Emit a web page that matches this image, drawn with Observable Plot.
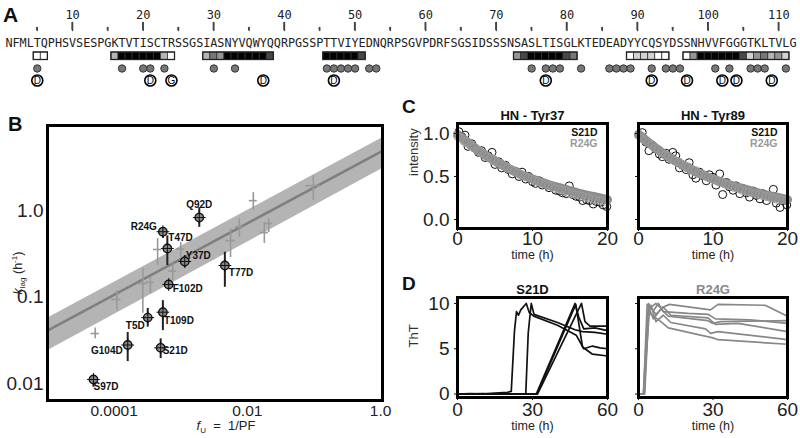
<!DOCTYPE html>
<html><head><meta charset="utf-8">
<script src="https://cdn.jsdelivr.net/npm/d3@7"></script>
<script src="https://cdn.jsdelivr.net/npm/@observablehq/plot@0.6"></script>
<style>
body{margin:0;background:#fff;}
#root{position:relative;width:800px;height:438px;overflow:hidden;background:#fff;font-family:"Liberation Sans",Arial,sans-serif;}
</style></head><body><div id="root"></div>
<script>
// ---------------- Panel A data ----------------
const sequence = "NFMLTQPHSVSESPGKTVTISCTRSSGSIASNYVQWYQQRPGSSPTTVIYEDNQRPSGVPDRFSGSIDSSSNSASLTISGLKTEDEADYYCQSYDSSNHVVFGGGTKLTVLG";
const majorTicks = [10,20,30,40,50,60,70,80,90,100,110];
const minorTicks = [5,15,25,35,45,55,65,75,85,95,105];
const segStart = [5,16,29,46,73,89,97];
const segLevels = [
  [0,0],
  [2,6,6,6,6,6,6,2,0],
  [2,4,3,6,6,6,6,6,6,5],
  [6,6,6,6,6,5],
  [3,5,6,6,6,6,6,5,4],
  [0,1,1,1,0,0],
  [0,3,6,6,6,6,6,6,5,1,3,4,2,3,1]
];
const dotResidues = [5,17,20,21,23,30,33,46,47,48,49,50,52,53,75,77,78,79,82,86,87,88,89,92,94,95,96,101,103,106,107,108,111];
const mutResidues = [5,21,24,37,47,77,92,97,102,104,109];
const mutLetters  = ["D","D","G","D","D","D","D","D","D","D","D"];

// ---------------- Panel B data ----------------
const grayF   = [5.2e-5,1.1e-4,2.7e-4,3.5e-4,4.5e-4,7.6e-4,1.0e-3,5.6e-3,7.6e-3,0.0123,0.018,0.021,0.098];
const grayK   = [0.038,0.094,0.144,0.148,0.355,0.20,0.36,0.45,0.65,1.30,0.557,0.71,1.94];
const grayKlo = [0.033,0.070,0.065,0.110,0.232,0.156,0.287,0.287,0.49,1.0,0.416,0.557,1.30];
const grayKhi = [0.044,0.119,0.214,0.169,0.476,0.245,0.428,0.62,0.81,1.61,0.73,0.81,2.53];
const grayFlo = [4.5e-5,9.3e-5,2.3e-4,3.0e-4,3.9e-4,6.6e-4,8.7e-4,4.7e-3,6.6e-3,0.0107,0.0157,0.0183,0.075];
const grayFhi = [6.0e-5,1.27e-4,3.1e-4,4.0e-4,5.2e-4,8.7e-4,1.15e-3,6.6e-3,8.7e-3,0.0141,0.0207,0.024,0.126];
const mutNames = ["Q92D","R24G","T47D","Y37D","T77D","F102D","T109D","T5D","G104D","S21D","S97D"];
const mutF   = [1.9e-3,5.4e-4,6.3e-4,1.15e-3,4.6e-3,6.6e-4,5.4e-4,3.2e-4,1.6e-4,5.0e-4,4.9e-5];
const mutK   = [0.83,0.57,0.365,0.258,0.232,0.14,0.067,0.058,0.028,0.026,0.0112];
const mutKlo = [0.64,0.48,0.232,0.219,0.13,0.13,0.041,0.045,0.018,0.0195,0.0091];
const mutKhi = [1.08,0.63,0.51,0.30,0.33,0.15,0.091,0.074,0.039,0.033,0.0124];
const fitF = [1e-5,1.07];
const fitK = [0.041,4.9];
const bandLo = [0.024,3.05];
const bandHi = [0.057,6.95];
const bXTicks = [0.0001,0.01,1];
const bXTickLabels = ["0.0001","0.01","1.0"];
const bYTicks = [0.01,0.1,1];
const bYTickLabels = ["0.01","0.1","1.0"];

// ---------------- Panel C data ----------------
const c37BlackT = [0.2,0.6,1.0,1.4,1.9,2.3,2.8,3.2,3.7,4.1,4.6,5.0,5.5,5.9,6.4,6.8,7.3,7.7,8.2,8.6,9.1,9.5,10.0,10.4,10.9,11.3,11.8,12.2,12.7,13.1,13.6,14.0,14.5,14.9,15.4,15.8,16.3,16.7,17.2,17.6,18.1,18.5,19.0,19.4,19.9];
const c37BlackV = [1.02,0.96,0.98,0.85,0.88,0.83,0.78,0.80,0.72,0.74,0.78,0.64,0.67,0.60,0.63,0.58,0.53,0.56,0.50,0.55,0.47,0.50,0.44,0.42,0.45,0.40,0.41,0.37,0.38,0.34,0.33,0.31,0.30,0.39,0.29,0.27,0.26,0.22,0.23,0.22,0.18,0.21,0.20,0.17,0.15];
const c37GrayT = [0.0,0.4,0.9,1.3,1.8,2.2,2.7,3.1,3.6,4.0,4.5,4.9,5.4,5.8,6.3,6.7,7.2,7.6,8.1,8.5,9.0,9.4,9.9,10.3,10.8,11.2,11.7,12.1,12.6,13.0,13.5,13.9,14.4,14.8,15.3,15.7,16.2,16.6,17.1,17.5,18.0,18.4,18.9,19.3,19.8];
const c37GrayV = [0.97,0.95,0.91,0.90,0.86,0.84,0.80,0.78,0.76,0.73,0.71,0.69,0.66,0.65,0.62,0.60,0.58,0.56,0.54,0.52,0.50,0.49,0.47,0.45,0.44,0.42,0.41,0.39,0.38,0.36,0.35,0.34,0.33,0.31,0.30,0.29,0.28,0.27,0.26,0.25,0.24,0.23,0.22,0.22,0.21];
const c89BlackT = [0.1,0.5,1.0,1.4,1.9,2.3,2.8,3.2,3.7,4.1,4.6,5.0,5.5,5.9,6.4,6.8,7.3,7.7,8.2,8.6,9.1,9.5,10.0,10.4,10.9,11.3,11.8,12.2,12.7,13.1,13.6,14.0,14.5,14.9,15.4,15.8,16.3,16.7,17.2,17.6,18.1,18.5,19.0,19.4,19.9];
const c89BlackV = [0.98,1.01,0.90,0.80,0.86,0.82,0.76,0.73,0.77,0.70,0.78,0.74,0.60,0.63,0.58,0.66,0.52,0.48,0.55,0.51,0.45,0.52,0.49,0.40,0.53,0.29,0.43,0.38,0.34,0.39,0.30,0.36,0.31,0.26,0.33,0.28,0.24,0.30,0.22,0.27,0.35,0.19,0.14,0.22,0.17];
const c89GrayT = [0.0,0.4,0.9,1.3,1.8,2.2,2.7,3.1,3.6,4.0,4.5,4.9,5.4,5.8,6.3,6.7,7.2,7.6,8.1,8.5,9.0,9.4,9.9,10.3,10.8,11.2,11.7,12.1,12.6,13.0,13.5,13.9,14.4,14.8,15.3,15.7,16.2,16.6,17.1,17.5,18.0,18.4,18.9,19.3,19.8];
const c89GrayV = [0.98,0.94,0.92,0.89,0.87,0.83,0.81,0.78,0.75,0.74,0.71,0.68,0.67,0.64,0.62,0.61,0.58,0.57,0.54,0.53,0.51,0.49,0.47,0.46,0.44,0.43,0.41,0.40,0.38,0.37,0.36,0.34,0.33,0.32,0.31,0.30,0.29,0.28,0.27,0.26,0.25,0.24,0.23,0.23,0.22];
const cFitT = [0,2,4,6,8,10,12,14,16,18,20];
const cFitV = [0.99,0.85,0.73,0.63,0.54,0.47,0.41,0.36,0.31,0.27,0.23];

// ---------------- Panel D data ----------------
const thtS21D = [
  [[0,0],[5,0.05],[10,0],[15,0.1],[20,0.2],[21.5,0.3],[22.8,7.0],[23.6,9.1],[24.4,8.7],[25.3,9.3],[27.5,10],[28.7,9.0],[30.5,8.6],[40,7.6],[47.5,6.5],[50.5,5.0],[54,5.3],[57,5.1],[60,5.0]],
  [[0,0],[10,0.05],[20,0],[27.3,0],[28.3,6.8],[29.5,10],[30.6,8.8],[40,7.9],[47,7.1],[50,6.9],[55,6.8],[60,6.6]],
  [[0,0],[10,0],[20,0],[31.5,0],[47,10],[48.5,8.5],[50.5,7.2],[55,7.3],[60,7.0]],
  [[0,0],[10,0],[20,0],[32,0],[49.6,10],[51,8.0],[53,7.5],[60,7.5]],
  [[0,0],[10,0],[20,0],[31.8,0],[47.3,9.9],[50,5.2],[54,4.4],[60,4.2]]
];
const thtR24G = [
  [[0,0],[2,0],[3.5,9.9],[5,9.6],[7,10],[9,9.5],[12.5,9.9],[29,9.3],[32,9.9],[51,9.8],[60,8.6]],
  [[0,0],[2.3,0],[4,10],[6,9.2],[8,10],[10,9.1],[20,8.9],[28,8.8],[31,8.3],[45,8.2],[60,7.8]],
  [[0,0],[2.5,0],[4.2,9.5],[6,8.3],[9,9.4],[12,8.6],[28,8.1],[30,7.8],[33,8.0],[60,8.1]],
  [[0,0],[2,0],[4.5,9.7],[7,8.8],[10,9.6],[13,8.7],[28,8.4],[31,7.7],[40,7.8],[60,6.9]],
  [[0,0],[2,0],[3.6,8.5],[5,9.8],[7,8.0],[10,8.7],[13,7.9],[27,7.2],[29,6.7],[32,6.9],[60,6.0]],
  [[0,0],[2.2,0],[4,9.0],[6,8.6],[9,8.0],[12,7.3],[25,6.5],[30,6.2],[32,6.0],[60,5.5]]
];

// ---------------- helpers ----------------
const root = document.getElementById("root");
const FONT = '"Liberation Sans", Arial, sans-serif';
function place(el, left, top) {
  el.style.position = "absolute";
  el.style.left = left + "px";
  el.style.top = top + "px";
  el.style.background = "none";
  root.appendChild(el);
}
const baseStyle = {fontFamily: FONT, background: "none", overflow: "visible", color: "#111"};
const zip = (a, b) => a.map((v, i) => ({t: v, v: b[i]}));
const flatTraces = tr => tr.flatMap((pts, id) => pts.map(([t, v]) => ({id, t, v})));

// ---------------- Panel A ----------------
const seqData = Array.from(sequence, (c, i) => ({pos: i + 1, aa: c}));
const cells = segStart.flatMap((s, k) => segLevels[k].map((lv, j) => ({pos: s + j, level: lv})));
const segs = segStart.map((s, k) => ({a: s, b: s + segLevels[k].length - 1}));
const muts = mutResidues.map((r, i) => ({pos: r, l: mutLetters[i]}));
const seqX = {domain: [0.5, 112.5], axis: null};
const tickSegs = (ticks, y1, y2) => ticks.flatMap(t => [{t, y: y1}, {t, y: y2}]);
const plotA = Plot.plot({
  width: 800, height: 95, marginLeft: 5, marginRight: 4, marginTop: 0, marginBottom: 0,
  x: seqX,
  y: {domain: [0, 95], range: [0, 95], axis: null},
  color: {type: "ordinal", domain: [0,1,2,3,4,5,6], range: ["#ffffff","#d2d2d2","#b4b4b4","#959595","#777777","#474747","#000000"]},
  style: {...baseStyle, fontFamily: '"DejaVu Sans Mono", monospace'},
  marks: [
    Plot.line(tickSegs(majorTicks, 22, 30), {x: "t", y: "y", z: "t", stroke: "#444", strokeWidth: 1.4}),
    Plot.line(tickSegs(minorTicks, 27, 30), {x: "t", y: "y", z: "t", stroke: "#444", strokeWidth: 1.4}),
    Plot.text(majorTicks, {x: d => d, y: 15, text: d => String(d), fontSize: 12, fill: "#222"}),
    Plot.text(seqData, {x: "pos", y: 43, text: "aa", fontSize: 11.8, fill: "#222"}),
    Plot.rect(cells, {x1: d => d.pos - 0.5, x2: d => d.pos + 0.5, y1: 52, y2: 59.5, fill: "level", stroke: "#333", strokeWidth: 0.8}),
    Plot.rect(segs, {x1: d => d.a - 0.5, x2: d => d.b + 0.5, y1: 52, y2: 59.5, fill: "none", stroke: "#222", strokeWidth: 1.3}),
    Plot.dot(dotResidues, {x: d => d, y: 68, r: 3.7, fill: "#777", stroke: "#333", strokeWidth: 1}),
    Plot.dot(muts, {x: "pos", y: 80, r: 5.5, fill: "#fff", stroke: "#000", strokeWidth: 1.6}),
    Plot.text(muts, {x: "pos", y: 80, text: "l", fontSize: 10, fontFamily: FONT, fill: "#000"})
  ]
});
place(plotA, 0, 0);

// ---------------- Panel B ----------------
const grayData = grayF.map((f, i) => ({f, k: grayK[i], klo: grayKlo[i], khi: grayKhi[i], flo: grayFlo[i], fhi: grayFhi[i]}));
const mutData = mutNames.map((n, i) => ({name: n, f: mutF[i], k: mutK[i], klo: mutKlo[i], khi: mutKhi[i]}));
const fitData = fitF.map((f, i) => ({f, k: fitK[i], lo: bandLo[i], hi: bandHi[i]}));
const labelLayout = {
  Q92D: [0, -13, "middle"], R24G: [-6, -5, "end"], T47D: [1, -10.5, "start"], Y37D: [1, -6, "start"],
  T77D: [4, 7, "start"], F102D: [4, 4, "start"], T109D: [1, 9, "start"], T5D: [-3, 8.5, "end"],
  G104D: [-5, 5.5, "end"], S21D: [2, 3, "start"], S97D: [0, 7, "start"]
};
const bLabelMarks = mutData.map(d => {
  const [dx, dy, anchor] = labelLayout[d.name];
  return Plot.text([d], {x: "f", y: "k", text: "name", dx, dy, textAnchor: anchor, fontWeight: "bold", fontSize: 10, fill: "#111"});
});
const plotB = Plot.plot({
  width: 400, height: 338, marginLeft: 47, marginRight: 18, marginTop: 25, marginBottom: 38,
  x: {type: "log", domain: [1e-5, 1.07]},
  y: {type: "log", domain: [0.0064, 9.6]},
  style: baseStyle,
  marks: [
    Plot.areaY(fitData, {x: "f", y1: "lo", y2: "hi", fill: "#b4b4b4"}),
    Plot.line(fitData, {x: "f", y: "k", stroke: "#7f7f7f", strokeWidth: 2.5}),
    Plot.ruleX(grayData, {x: "f", y1: "klo", y2: "khi", stroke: "#999", strokeWidth: 1.6}),
    Plot.ruleY(grayData, {y: "k", x1: "flo", x2: "fhi", stroke: "#999", strokeWidth: 1.6}),
    Plot.ruleX(mutData, {x: "f", y1: "klo", y2: "khi", stroke: "#222", strokeWidth: 2}),
    Plot.dot(mutData, {x: "f", y: "k", r: 4.2, fill: "#8a8a8a", stroke: "#111", strokeWidth: 1.4}),
    Plot.dot(mutData, {x: "f", y: "k", r: 4.2, symbol: "plus", stroke: "#111", strokeWidth: 1}),
    ...bLabelMarks,
    Plot.frame({stroke: "#000", strokeWidth: 3}),
    Plot.axisX({ticks: bXTicks, tickFormat: d => bXTickLabels[bXTicks.indexOf(d)], tickSize: 0, tickPadding: 4, fontSize: 15.5, label: null, fill: "#222"}),
    Plot.axisY({ticks: bYTicks, tickFormat: d => bYTickLabels[bYTicks.indexOf(d)], tickSize: 0, tickPadding: 4, fontSize: 19, label: null, fill: "#222"})
  ]
});
place(plotB, 0, 100);

// ---------------- Panels C & D ----------------
function small({left, top, width, height, ml, mb, mt, xDomain, yDomain, xTicks, yTicks, yFmt, showY, title, titleColor, yLabel, xPad, xTitleDy, marks}) {
  const p = Plot.plot({
    width, height, marginLeft: ml, marginRight: 3, marginTop: mt, marginBottom: mb,
    x: {domain: xDomain}, y: {domain: yDomain},
    style: baseStyle,
    marks: [
      ...marks,
      Plot.frame({stroke: "#000", strokeWidth: 3}),
      Plot.axisX({ticks: xTicks, tickSize: 3, tickPadding: xPad, fontSize: 19, label: null, fill: "#222"}),
      Plot.axisY({ticks: yTicks, tickSize: 3, tickPadding: 5, fontSize: 19, label: null, fill: "#222", tickFormat: showY ? yFmt : () => ""}),
      Plot.text([title], {text: d => d, frameAnchor: "top", lineAnchor: "middle", dy: -8, fontWeight: "bold", fontSize: 13, fill: titleColor}),
      Plot.text(["time (h)"], {text: d => d, frameAnchor: "bottom", lineAnchor: "middle", dy: xTitleDy, fontSize: 12.5, fill: "#222"}),
      yLabel ? Plot.text([yLabel], {text: d => d, frameAnchor: "left", lineAnchor: "middle", dx: -44, rotate: -90, fontSize: 13, fill: "#333"}) : null
    ]
  });
  place(p, left, top);
}
function cMarks(blackT, blackV, grayT, grayV) {
  return [
    Plot.dot(zip(blackT, blackV), {x: "t", y: "v", r: 4, stroke: "#111", strokeWidth: 1, fill: "none"}),
    Plot.line(zip(cFitT, cFitV), {x: "t", y: "v", stroke: "#8c8c8c", strokeWidth: 9, curve: "natural"}),
    Plot.dot(zip(grayT, grayV), {x: "t", y: "v", r: 4, stroke: "#9a9a9a", strokeWidth: 1, fill: "none"}),
    Plot.text(["S21D"], {text: d => d, frameAnchor: "top-right", lineAnchor: "middle", dx: -10, dy: 9, fontWeight: "bold", fontSize: 10.5, fill: "#111"}),
    Plot.text(["R24G"], {text: d => d, frameAnchor: "top-right", lineAnchor: "middle", dx: -10, dy: 20, fontWeight: "bold", fontSize: 10.5, fill: "#999"})
  ];
}
const cY = [-0.105, 1.116];
small({left: 400, top: 100, width: 210, height: 160, ml: 57, mt: 23, mb: 32, xDomain: [0, 20], yDomain: cY,
  xTicks: [0, 10, 20], yTicks: [0, 0.5, 1], yFmt: d3.format(".1f"), showY: true, title: "HN - Tyr37", titleColor: "#111",
  yLabel: "intensity", xPad: 0, xTitleDy: 26, marks: cMarks(c37BlackT, c37BlackV, c37GrayT, c37GrayV)});
small({left: 610, top: 100, width: 180, height: 160, ml: 28, mt: 23, mb: 32, xDomain: [0, 20], yDomain: cY,
  xTicks: [0, 10, 20], yTicks: [0, 0.5, 1], yFmt: d3.format(".1f"), showY: false, title: "HN - Tyr89", titleColor: "#111",
  yLabel: null, xPad: 0, xTitleDy: 26, marks: cMarks(c89BlackT, c89BlackV, c89GrayT, c89GrayV)});

const dY = [-0.38, 10.66];
small({left: 400, top: 270, width: 210, height: 170, ml: 57, mt: 27, mb: 43, xDomain: [0, 60], yDomain: dY,
  xTicks: [0, 30, 60], yTicks: [0, 5, 10], yFmt: d => String(d), showY: true, title: "S21D", titleColor: "#111",
  yLabel: "ThT", xPad: 2, xTitleDy: 28, marks: [Plot.line(flatTraces(thtS21D), {x: "t", y: "v", z: "id", stroke: "#111", strokeWidth: 1.7})]});
small({left: 610, top: 270, width: 180, height: 170, ml: 28, mt: 27, mb: 43, xDomain: [0, 60], yDomain: dY,
  xTicks: [0, 30, 60], yTicks: [0, 5, 10], yFmt: d => String(d), showY: false, title: "R24G", titleColor: "#888",
  yLabel: null, xPad: 2, xTitleDy: 28, marks: [Plot.line(flatTraces(thtR24G), {x: "t", y: "v", z: "id", stroke: "#888", strokeWidth: 1.7})]});

// ---------------- overlay: panel letters, ruler ticks (via Plot's x scale), compound axis titles ----------------
const ov = d3.create("svg").attr("width", 800).attr("height", 438)
  .style("position", "absolute").style("left", "0px").style("top", "0px").style("pointer-events", "none")
  .style("font-family", FONT);
const sx = plotA.scale("x");
const rulerTicks = [...majorTicks.map(t => [t, 22]), ...minorTicks.map(t => [t, 27])];
rulerTicks.forEach(([t, y0]) => ov.append("rect")
  .attr("x", sx.apply(t) - 0.7).attr("width", 1.4)
  .attr("y", y0).attr("height", 30 - y0).attr("fill", "#444"));
const letters = [["A", 3, 22, 21], ["B", 8, 131, 20], ["C", 402, 113, 19], ["D", 402, 290, 19]];
letters.forEach(([t, x, y, s]) => ov.append("text").attr("x", x).attr("y", y).attr("font-size", s).attr("font-weight", "bold").attr("fill", "#111").text(t));
const yl = ov.append("text").attr("transform", "translate(22,273) rotate(-90)").attr("text-anchor", "middle").attr("font-size", 12.5).attr("fill", "#222");
yl.append("tspan").attr("font-style", "italic").text("k");
yl.append("tspan").attr("font-size", 8).attr("dy", 3).text("lag");
yl.append("tspan").attr("dy", -3).text(" (h");
yl.append("tspan").attr("font-size", 8).attr("dy", -5).text("-1");
yl.append("tspan").attr("dy", 5).text(")");
const xl = ov.append("text").attr("x", 226).attr("y", 430).attr("text-anchor", "middle").attr("font-size", 13).attr("fill", "#222");
xl.append("tspan").attr("font-style", "italic").text("f");
xl.append("tspan").attr("font-size", 8).attr("dy", 3).text("U");
xl.append("tspan").attr("dy", -3).attr("xml:space", "preserve").text("  =  1/PF");
root.appendChild(ov.node());
</script></body></html>
